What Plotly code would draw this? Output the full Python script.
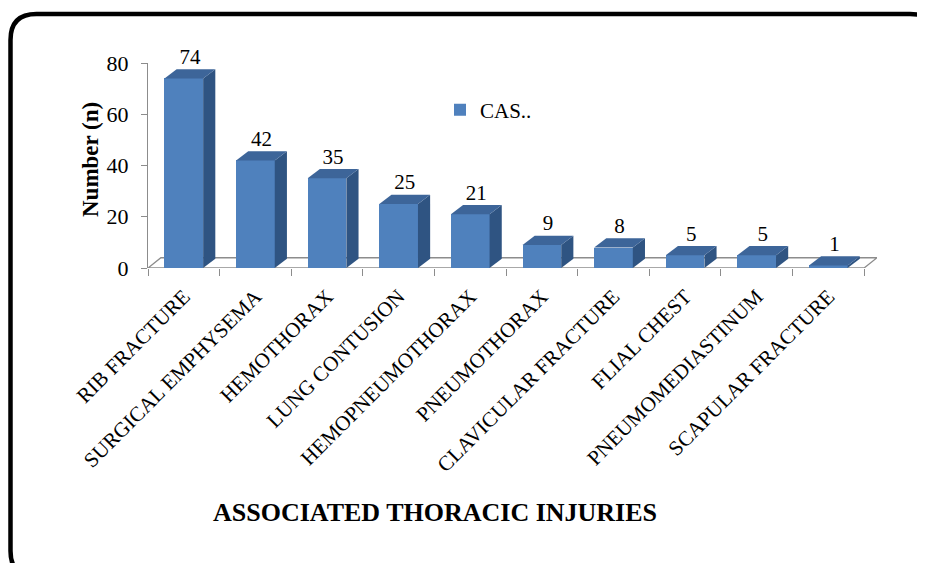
import plotly.graph_objects as go

categories = ["RIB FRACTURE", "SURGICAL EMPHYSEMA", "HEMOTHORAX", "LUNG CONTUSION",
              "HEMOPNEUMOTHORAX", "PNEUMOTHORAX", "CLAVICULAR FRACTURE", "FLIAL CHEST",
              "PNEUMOMEDIASTINUM", "SCAPULAR FRACTURE"]
cases = [74, 42, 35, 25, 21, 9, 8, 5, 5, 1]
y_ticks = [0, 20, 40, 60, 80]
series_name = "CAS.."

FONT = "Liberation Serif, Times New Roman, serif"
FRONT = "#4F81BD"
TOP = "#3D6599"
SIDE = "#2F5482"
GRAY = "#8C8C8C"

# page is 925x571; browser body margin offsets the figure by 8px
OFF = 8
W, H = 925 - 2 * OFF, 571 - 2 * OFF
# plot area in page pixels
PL, PR, PT, PB = 148, 877, 63, 268
L, T = PL - OFF, PT - OFF
R_MARGIN = W - (PR - OFF)
B = H - (PB - OFF)
PW = PR - PL
PH = PB - PT

BAR_W = 0.54
DX, DY = 0.17, 3.6        # bar depth (data units)
FDX, FDY = 0.18, 4.0      # floor depth
n = len(categories)
xs = list(range(n))
x_range = [-0.5, n - 0.5 + FDX]
y_range = [0, 80]


def px2x(px):
    return (px - PL) / PW


def py2y(py):
    return (PB - py) / PH


fig = go.Figure()

fig.add_trace(go.Bar(
    x=xs, y=cases, width=BAR_W, name=series_name,
    marker=dict(color=FRONT, line=dict(width=0)),
    showlegend=True, hoverinfo="skip"))

for x, v in zip(xs, cases):
    xl, xr = x - BAR_W / 2, x + BAR_W / 2
    fig.add_trace(go.Scatter(
        x=[xr, xr + DX, xr + DX, xr, xr], y=[0, DY, v + DY, v, 0],
        mode="lines", fill="toself", fillcolor=SIDE, line=dict(width=0, color=SIDE),
        showlegend=False, hoverinfo="skip"))
    fig.add_trace(go.Scatter(
        x=[xl, xr, xr + DX, xl + DX, xl], y=[v, v, v + DY, v + DY, v],
        mode="lines", fill="toself", fillcolor=TOP, line=dict(width=0, color=TOP),
        showlegend=False, hoverinfo="skip"))

fig.add_trace(go.Scatter(
    x=[x + DX / 2 for x in xs], y=[v + DY for v in cases],
    mode="text", text=[str(v) for v in cases], textposition="top center",
    textfont=dict(family=FONT, size=21, color="black"),
    cliponaxis=False, showlegend=False, hoverinfo="skip"))

x0, x1 = -0.5, n - 0.5
floor_path = f"M {x0},0 L {x1},0 L {x1 + FDX},{FDY} L {x0 + FDX},{FDY} Z"
shapes = [dict(type="path", xref="x", yref="y", path=floor_path,
               line=dict(color=GRAY, width=1.3), layer="below")]

# rounded frame (page pixels)
bl, bt, br, bb, rr = 10.5, 14, 936, 577, 26


def P(px, py):
    return f"{px2x(px)},{py2y(py)}"


frame = (f"M {P(bl, bt + rr)} Q {P(bl, bt)} {P(bl + rr, bt)} L {P(br - rr, bt)} "
         f"Q {P(br, bt)} {P(br, bt + rr)} L {P(br, bb - rr)} Q {P(br, bb)} {P(br - rr, bb)} "
         f"L {P(bl + rr, bb)} Q {P(bl, bb)} {P(bl, bb - rr)} Z")
shapes.append(dict(type="path", xref="paper", yref="paper", path=frame,
                   line=dict(color="black", width=4.5)))

fig.update_layout(
    width=W, height=H,
    margin=dict(l=L, r=R_MARGIN, t=T, b=B, autoexpand=False),
    paper_bgcolor="white", plot_bgcolor="white",
    font=dict(family=FONT, color="black"),
    shapes=shapes,
    xaxis=dict(range=x_range, tickmode="array", tickvals=xs, ticktext=categories,
               tickangle=-45, ticks="outside", ticklen=7, tickcolor="rgba(0,0,0,0)",
               tickfont=dict(family=FONT, size=21, color="black"),
               minor=dict(tickmode="array", tickvals=[x - 0.5 for x in range(n + 1)],
                          ticks="outside", ticklen=7, tickcolor=GRAY, tickwidth=1.3),
               showline=False, showgrid=False, zeroline=False, fixedrange=True),
    yaxis=dict(range=y_range, tickmode="array", tickvals=y_ticks,
               ticks="outside", ticklen=6, tickcolor=GRAY, tickwidth=1.3,
               ticklabelstandoff=8,
               showline=True, linecolor=GRAY, linewidth=1.3,
               tickfont=dict(family=FONT, size=22, color="black"),
               showgrid=False, zeroline=False, fixedrange=True),
    legend=dict(x=px2x(440), y=py2y(110), xanchor="left", yanchor="middle",
                font=dict(family=FONT, size=21, color="black"),
                bgcolor="rgba(0,0,0,0)", borderwidth=0),
    annotations=[
        dict(text="<b>Number (n)</b>", xref="paper", yref="paper",
             x=px2x(90), y=py2y(160), xanchor="center", yanchor="middle",
             textangle=-90, showarrow=False, font=dict(family=FONT, size=23, color="black")),
        dict(text="<b>ASSOCIATED THORACIC INJURIES</b>", xref="paper", yref="paper",
             x=px2x(435), y=py2y(512), xanchor="center", yanchor="middle",
             showarrow=False, font=dict(family=FONT, size=26, color="black")),
    ],
    bargap=0,
)

fig.write_html("out.html")
